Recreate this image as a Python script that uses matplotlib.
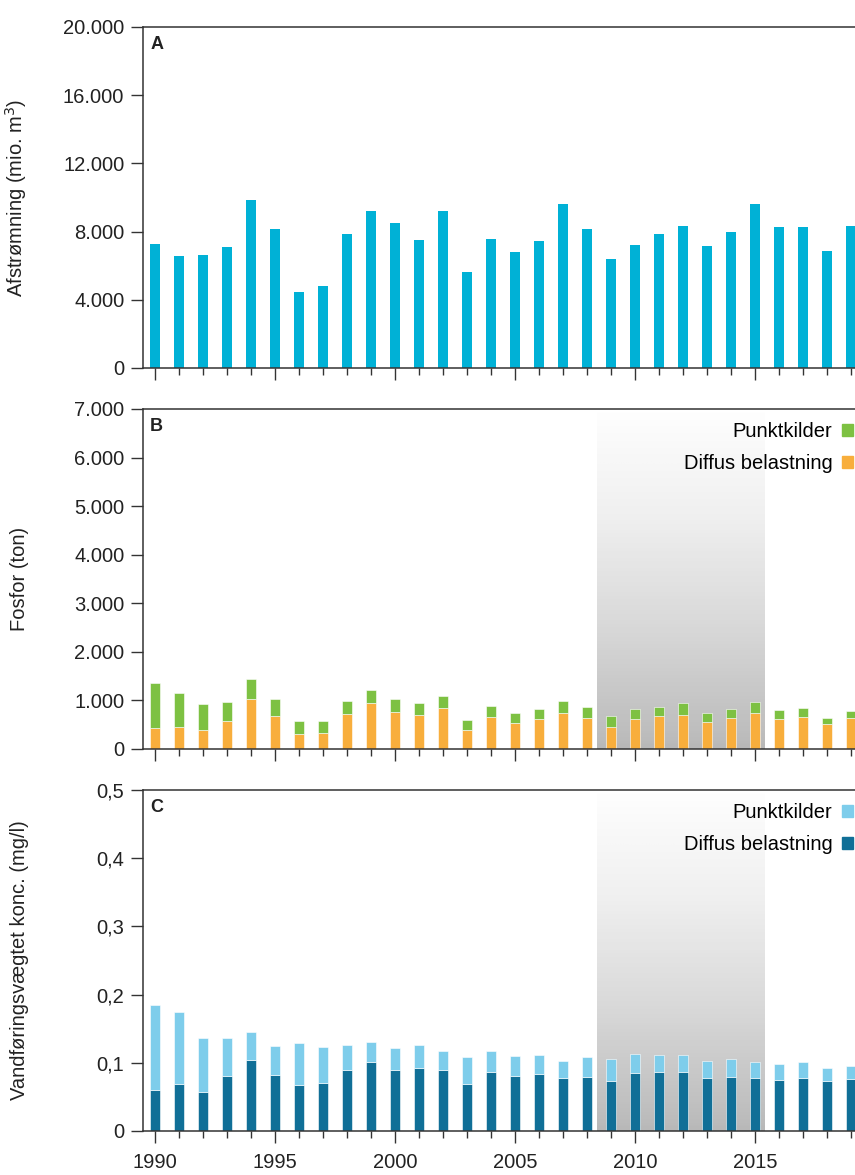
#Importing numpy and pyplot
import numpy as np
import matplotlib.pyplot as plt
from matplotlib.patches import Patch

plt.rcParams['font.family'] = ['Liberation Sans', 'DejaVu Sans']

#Years on X-Axis
years = np.arange(1990, 2020)

#Panel A: Afstroemning (mio. m3)
afstroemning = [7300, 6570, 6630, 7100, 9850, 8150, 4460, 4800, 7860, 9200,
                8500, 7500, 9200, 5630, 7570, 6800, 7450, 9620, 8150, 6400,
                7200, 7860, 8330, 7170, 7980, 9620, 8270, 8270, 6860, 8330]

#Panel B: Fosfor (ton)
fosfor_total = [1360, 1150, 920, 975, 1440, 1030, 576, 580, 995, 1210,
                1035, 940, 1090, 597, 895, 750, 820, 990, 870, 680,
                816, 870, 940, 750, 830, 975, 800, 840, 645, 790]
fosfor_diffus = [440, 450, 385, 576, 1030, 680, 300, 335, 727, 946,
                 768, 706, 837, 390, 660, 540, 610, 750, 645, 460,
                 610, 680, 710, 560, 630, 750, 617, 650, 510, 630]
fosfor_punkt = [t - d for t, d in zip(fosfor_total, fosfor_diffus)]

#Panel C: Vandfoeringsvaegtet koncentration (mg/l)
konc_total = [0.185, 0.175, 0.137, 0.137, 0.145, 0.125, 0.129, 0.123, 0.126, 0.130,
              0.121, 0.126, 0.118, 0.109, 0.117, 0.110, 0.112, 0.103, 0.108, 0.106,
              0.113, 0.112, 0.111, 0.103, 0.105, 0.101, 0.098, 0.101, 0.093, 0.096]
konc_diffus = [0.060, 0.069, 0.057, 0.081, 0.104, 0.082, 0.068, 0.070, 0.090, 0.101,
               0.089, 0.093, 0.089, 0.069, 0.087, 0.081, 0.083, 0.077, 0.079, 0.074,
               0.085, 0.086, 0.086, 0.078, 0.079, 0.078, 0.075, 0.078, 0.074, 0.076]
konc_punkt = [t - d for t, d in zip(konc_total, konc_diffus)]

#Tick labels
ticks_a = [0, 4000, 8000, 12000, 16000, 20000]
labels_a = ['0', '4.000', '8.000', '12.000', '16.000', '20.000']
ticks_b = [0, 1000, 2000, 3000, 4000, 5000, 6000, 7000]
labels_b = ['0', '1.000', '2.000', '3.000', '4.000', '5.000', '6.000', '7.000']
ticks_c = [0, 0.1, 0.2, 0.3, 0.4, 0.5]
labels_c = ['0', '0,1', '0,2', '0,3', '0,4', '0,5']
year_ticks = [1990, 1995, 2000, 2005, 2010, 2015]

#Shaded period
shade_start, shade_end = 2008.4, 2015.4

#Colours
c_afst = '#00B1D6'
c_green = '#7DC142'
c_orange = '#F8AE3C'
c_lblue = '#7ECDEB'
c_dblue = '#106F97'
dark = '#333333'
txt = '#222222'

fig = plt.figure(figsize=(8.55, 11.75), dpi=100)
W = 1.0 - 143/855
axA = fig.add_axes([143/855, 1 - 368/1175, W, 341/1175])
axB = fig.add_axes([143/855, 1 - 749/1175, W, 340/1175])
axC = fig.add_axes([143/855, 1 - 1131/1175, W, 341/1175])

bw = 0.45
fs = 14.5

def style(ax, ticks, labels, ylabel, letter):
    ax.set_xlim(1989.5, 2019.17)
    ax.set_ylim(ticks[0], ticks[-1])
    ax.set_yticks(ticks)
    ax.set_yticklabels(labels)
    ax.set_xticks(year_ticks)
    ax.set_xticks(years, minor=True)
    ax.tick_params(axis='y', length=8.5, width=1, color=dark, labelsize=fs, pad=5, labelcolor=txt)
    ax.tick_params(axis='x', which='major', length=8.5, width=1, color=dark, labelsize=fs, pad=7, labelcolor=txt)
    ax.tick_params(axis='x', which='minor', length=4.7, width=1, color=dark)
    for s in ['left', 'bottom', 'top']:
        ax.spines[s].set_color(dark)
        ax.spines[s].set_linewidth(1.1)
    ax.spines['right'].set_visible(False)
    ax.set_ylabel(ylabel, fontsize=fs, color=txt)
    ax.yaxis.set_label_coords(-0.16, 0.5)
    ax.text(0.01, 0.973, letter, transform=ax.transAxes, fontsize=13,
            fontweight='bold', va='top', ha='left', color=txt)

def shade(ax, ymax):
    grad = np.linspace(0, 1, 256).reshape(-1, 1)
    ax.imshow(grad, extent=[shade_start, shade_end, 0, ymax * 0.99], aspect='auto',
              cmap='Greys', vmin=-0.03, vmax=2.6, origin='upper', zorder=0)

#Panel A
axA.bar(years, afstroemning, width=bw, color=c_afst, zorder=2)
style(axA, ticks_a, labels_a, 'Afstrømning (mio. m$^3$)', 'A')
axA.tick_params(axis='x', labelbottom=False)

#Panel B
shade(axB, ticks_b[-1])
axB.bar(years, fosfor_diffus, width=bw, color=c_orange, edgecolor='white', linewidth=0.4, zorder=2)
axB.bar(years, fosfor_punkt, width=bw, bottom=fosfor_diffus, color=c_green, edgecolor='white', linewidth=0.4, zorder=2)
style(axB, ticks_b, labels_b, 'Fosfor (ton)', 'B')
axB.tick_params(axis='x', labelbottom=False)

#Panel C
shade(axC, ticks_c[-1])
axC.bar(years, konc_diffus, width=bw, color=c_dblue, edgecolor='white', linewidth=0.4, zorder=2)
axC.bar(years, konc_punkt, width=bw, bottom=konc_diffus, color=c_lblue, edgecolor='white', linewidth=0.4, zorder=2)
style(axC, ticks_c, labels_c, 'Vandføringsvægtet konc. (mg/l)', 'C')

#Legends
for ax, cp, cd in [(axB, c_green, c_orange), (axC, c_lblue, c_dblue)]:
    h = [Patch(color=cp, label='Punktkilder'), Patch(color=cd, label='Diffus belastning')]
    ax.legend(handles=h, loc='upper right', bbox_to_anchor=(0.997, 0.962), frameon=False,
              markerfirst=False, handlelength=0.56, handleheight=0.56, handletextpad=0.45,
              labelspacing=0.65, fontsize=fs, borderaxespad=0, borderpad=0)

#Save Files
plt.savefig('out.png', dpi=100)
